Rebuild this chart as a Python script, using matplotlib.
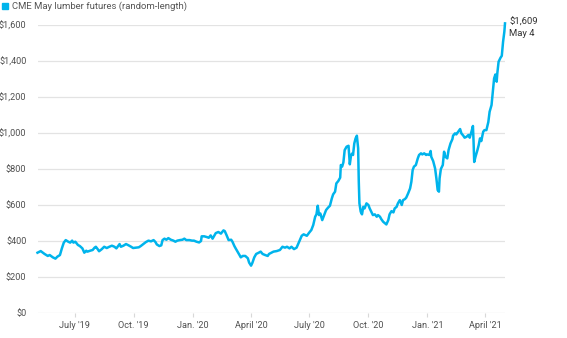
import pandas as pd
import matplotlib
matplotlib.use("Agg")
import matplotlib.pyplot as plt
from matplotlib.patches import Rectangle

# lumber futures (days since 2019-05-04, $ per 1,000 board feet)
start = pd.Timestamp("2019-05-04")
days = [0, 5, 11, 16, 19, 24, 28, 31, 35, 38, 41, 44, 48, 51, 54, 56, 59, 63, 66, 70,
        73, 76, 78, 82, 86, 89, 91, 94, 96, 100, 104, 108, 112, 116, 120, 123, 128, 130,
        134, 138, 142, 146, 149, 154, 158, 161, 165, 169, 173, 177, 181, 184, 186, 190,
        193, 195, 198, 201, 204, 208, 212, 215, 218, 222, 226, 229, 232, 237, 241, 244,
        248, 252, 255, 256, 260, 264, 267, 270, 273, 276, 278, 282, 286, 290, 292, 295,
        298, 302, 304, 307, 309, 312, 315, 317, 320, 324, 328, 330, 333, 335, 338, 341,
        345, 348, 351, 355, 359, 361, 368, 373, 378, 382, 386, 389, 393, 396, 400, 404,
        408, 412, 415, 420, 424, 427, 430, 433, 435, 437, 439, 441, 444, 447, 450, 453,
        456, 459, 461, 464, 466, 469, 472, 473, 475, 477, 479, 482, 485, 486, 487, 489,
        491, 492, 494, 496, 498, 500, 501, 502, 504, 506, 508, 510, 513, 516, 518, 521,
        523, 526, 529, 531, 534, 536, 539, 542, 544, 547, 549, 552, 555, 557, 560, 562,
        565, 568, 570, 573, 575, 578, 581, 583, 585, 587, 590, 593, 595, 598, 600, 603,
        606, 608, 611, 613, 614, 617, 620, 622, 624, 626, 627, 629, 632, 634, 636, 639,
        641, 644, 647, 648, 651, 653, 656, 659, 661, 664, 666, 669, 672, 674, 677, 679,
        680, 681, 683, 686, 688, 690, 692, 695, 697, 700, 703, 705, 708, 710, 712, 714,
        716, 717, 719, 722, 724, 726, 728, 729]
price = [335, 344, 328, 317, 322, 309, 302, 313, 322, 359, 391, 405, 396, 391, 402, 391,
         396, 378, 372, 359, 335, 346, 341, 346, 350, 363, 368, 354, 343, 354, 368, 361,
         368, 374, 368, 359, 383, 368, 374, 383, 376, 368, 361, 363, 365, 372, 383, 394,
         402, 398, 405, 394, 381, 372, 376, 405, 413, 407, 416, 407, 402, 396, 402, 405,
         407, 413, 405, 405, 402, 402, 396, 392, 400, 426, 426, 422, 418, 431, 413, 431,
         444, 450, 441, 459, 455, 431, 405, 407, 396, 372, 359, 341, 322, 309, 317, 317,
         304, 280, 263, 278, 309, 328, 335, 341, 328, 322, 317, 328, 341, 344, 350, 368,
         363, 368, 359, 368, 355, 363, 396, 429, 437, 429, 448, 461, 489, 535, 548, 596,
         544, 553, 516, 544, 572, 585, 596, 637, 659, 674, 720, 733, 752, 822, 813, 837,
         905, 924, 929, 878, 826, 878, 887, 878, 942, 970, 985, 915, 729, 609, 563, 548,
         590, 581, 609, 600, 581, 559, 544, 548, 535, 544, 535, 522, 507, 498, 492, 516,
         548, 566, 559, 581, 590, 609, 627, 600, 627, 633, 641, 665, 692, 729, 794, 813,
         822, 859, 878, 887, 881, 887, 878, 881, 878, 900, 868, 844, 803, 748, 683, 674,
         748, 800, 822, 896, 868, 859, 905, 942, 966, 985, 998, 992, 1007, 1022, 998, 985,
         974, 979, 989, 974, 1011, 1039, 950, 839, 868, 905, 933, 970, 955, 1007, 1016,
         1016, 1061, 1118, 1155, 1229, 1303, 1325, 1285, 1331, 1396, 1418, 1429, 1507,
         1563, 1609]

yticks = [0, 200, 400, 600, 800, 1000, 1200, 1400, 1600]
ytick_labels = ["$0", "$200", "$400", "$600", "$800", "$1,000", "$1,200", "$1,400", "$1,600"]
xtick_dates = ["2019-07-01", "2019-10-01", "2020-01-01", "2020-04-01",
               "2020-07-01", "2020-10-01", "2021-01-01", "2021-04-01"]
xtick_labels = ["July '19", "Oct. '19", "Jan. '20", "April '20",
                "July '20", "Oct. '20", "Jan. '21", "April '21"]

blue = "#00b4ec"
W, H = 567, 338
dates = start + pd.to_timedelta(days, unit="D")

plt.rcParams["font.family"] = ["Roboto", "DejaVu Sans"]
fig = plt.figure(figsize=(W / 100, H / 100), dpi=100)
ax = fig.add_axes([37.5 / W, 25 / H, (505 - 37.5) / W, (313 - 25) / H])

ax.plot(dates, price, color=blue, lw=1.8, clip_on=False, solid_joinstyle="round")
ax.set_xlim(start, start + pd.Timedelta(days=729))
ax.set_ylim(0, 1600)

ax.set_yticks(yticks)
ax.set_yticklabels(ytick_labels)
ax.set_xticks(pd.to_datetime(xtick_dates))
ax.set_xticklabels(xtick_labels)
ax.grid(axis="y", color="#e3e3e3", lw=0.9)
ax.set_axisbelow(True)
for s in ax.spines.values():
    s.set_visible(False)
ax.tick_params(axis="y", length=0, pad=8, labelsize=6.6, labelcolor="#505050")
ax.tick_params(axis="x", length=3, width=0.8, color="#d8d8d8", pad=3,
               labelsize=6.6, labelcolor="#505050")

# legend swatch + label
fig.patches.append(Rectangle((2 / W, 1 - 9 / H), 6 / W, 6 / H,
                             transform=fig.transFigure, color=blue))
fig.text(12 / W, 1 - 6 / H, "CME May lumber futures (random-length)",
         fontsize=6.8, color="#555555", va="center", ha="left")

ax.annotate("$1,609\nMay 4", xy=(dates[-1], price[-1]), xytext=(3, 4),
            textcoords="offset points", fontsize=6.8, color="#333333",
            ha="left", va="top", linespacing=1.3, annotation_clip=False)

fig.savefig("out.png", dpi=100)
